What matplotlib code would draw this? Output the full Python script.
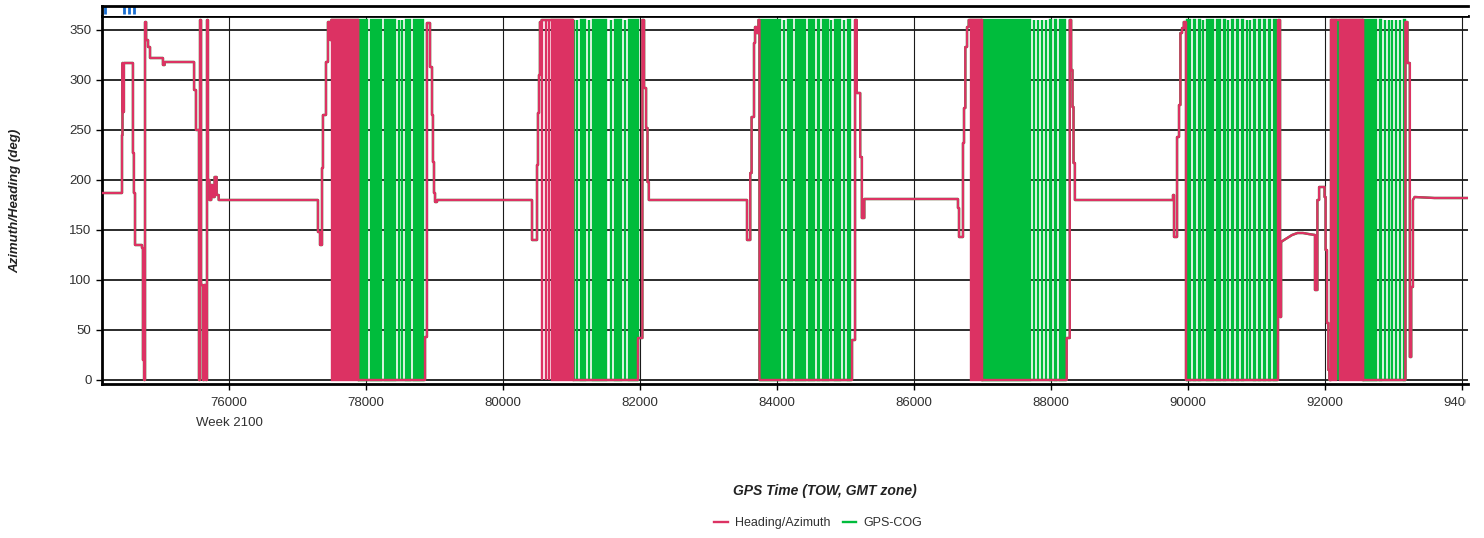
import numpy as np
import matplotlib
matplotlib.use('Agg')
import matplotlib.pyplot as plt
from matplotlib.transforms import Bbox, TransformedBbox

plt.rcParams['font.family'] = ['Liberation Sans', 'DejaVu Sans']

# Heading/Azimuth trace: (GPS TOW [s], deg). Repeated times are vertical jumps.
heading_pts = [
    (74146, 187), (74438, 187), (74438, 245), (74445, 245), (74445, 317), (74452, 317),
    (74452, 268), (74466, 268), (74466, 317), (74598, 317), (74598, 227), (74612, 227),
    (74612, 187), (74628, 187), (74628, 135), (74730, 135), (74730, 132), (74744, 132),
    (74744, 20), (74760, 20), (74760, 0), (74774, 0), (74774, 358), (74790, 358),
    (74790, 340), (74818, 340), (74818, 333), (74847, 333), (74847, 322), (75036, 322),
    (75036, 315), (75060, 315), (75060, 318), (75490, 318), (75490, 290), (75518, 290),
    (75518, 250), (75562, 250), (75562, 0), (75577, 0), (75577, 360), (75592, 360),
    (75592, 95), (75620, 95), (75620, 0), (75640, 0), (75640, 95), (75660, 95),
    (75660, 0), (75679, 0), (75679, 360), (75693, 360), (75693, 200), (75715, 200),
    (75715, 180), (75740, 180), (75740, 195), (75760, 195), (75760, 183), (75790, 183),
    (75790, 203), (75820, 203), (75820, 185), (75850, 185), (75850, 180), (77299, 180),
    # first turn
    (77299, 148), (77329, 148), (77329, 135), (77358, 135), (77358, 212), (77372, 212),
    (77372, 265), (77416, 265), (77416, 318), (77445, 318), (77445, 358), (77475, 358),
    (77475, 340), (77495, 340), (77495, 360), (77885, 360), (77885, 0), (78862, 0),
    (78862, 43), (78890, 43), (78890, 357), (78935, 357), (78935, 313), (78964, 313),
    (78964, 265), (78978, 265), (78978, 218), (78993, 218), (78993, 187), (79008, 187),
    (79008, 178), (79037, 178), (79037, 180), (80424, 180),
    # second turn
    (80424, 140), (80497, 140), (80497, 215), (80511, 215), (80511, 267), (80526, 267),
    (80526, 305), (80540, 305), (80540, 358), (80565, 358), (80565, 360), (81022, 360),
    (81022, 0), (81971, 0), (81971, 42), (82035, 42), (82035, 360), (82060, 360),
    (82060, 292), (82089, 292), (82089, 252), (82110, 252), (82110, 198), (82130, 198),
    (82130, 180), (83563, 180),
    # third turn
    (83563, 140), (83610, 140), (83610, 207), (83630, 207), (83630, 263), (83665, 263),
    (83665, 337), (83680, 337), (83680, 353), (83700, 353), (83700, 347), (83730, 347),
    (83730, 360), (83745, 360), (83745, 0), (85096, 0), (85096, 40), (85140, 40),
    (85140, 360), (85165, 360), (85165, 287), (85215, 287), (85215, 223), (85240, 223),
    (85240, 162), (85275, 162), (85275, 181), (86643, 181),
    # fourth turn
    (86643, 172), (86658, 172), (86658, 143), (86716, 143), (86716, 237), (86731, 237),
    (86731, 272), (86750, 272), (86750, 333), (86775, 333), (86775, 353), (86800, 353),
    (86800, 360), (86992, 360), (86992, 0), (88230, 0), (88230, 42), (88275, 42),
    (88275, 360), (88295, 360), (88295, 310), (88315, 310), (88315, 273), (88330, 273),
    (88330, 217), (88350, 217), (88350, 180), (89782, 180),
    # fifth turn and the last leg
    (89782, 185), (89797, 185), (89797, 143), (89841, 143), (89841, 243), (89870, 243),
    (89870, 275), (89890, 275), (89890, 347), (89914, 347), (89914, 352), (89940, 352),
    (89940, 358), (89972, 358), (89972, 0), (91315, 0), (91315, 360), (91345, 360),
    (91345, 63), (91360, 63), (91360, 138), (91403, 140), (91450, 142), (91520, 145),
    (91600, 147), (91680, 147), (91760, 146), (91855, 145), (91855, 90), (91890, 90),
    (91890, 180), (91915, 180), (91915, 193), (91995, 193), (91995, 183), (92010, 183),
    (92010, 130), (92030, 130), (92030, 57), (92050, 57), (92050, 10), (92065, 10),
    (92065, 0), (92090, 0), (92090, 360), (92556, 360), (92556, 0), (93175, 0),
    (93175, 358), (93205, 358), (93205, 317), (93240, 317), (93240, 23), (93260, 23),
    (93260, 93), (93285, 93), (93285, 180), (93310, 183), (93600, 182), (94146, 182),
]

# spans (start, end) where the value flips 0/360 every sample -> drawn as solid blocks
heading_wrap = [
    (77500, 77885), (80565, 80565), (80624, 80624), (80676, 80676), (80711, 81022),
    (86828, 86992), (92090, 92160), (92215, 92556),
]

cog_wrap = [
    (77905, 78015), (78073, 78220), (78277, 78425), (78475, 78475), (78525, 78527),
    (78585, 78643), (78700, 78832),
    (81030, 81038), (81088, 81088), (81138, 81199), (81256, 81256), (81313, 81505),
    (81570, 81570), (81634, 81724), (81781, 81781), (81839, 81968),
    (83753, 84040), (84100, 84100), (84160, 84220), (84278, 84410), (84468, 84541),
    (84600, 84614), (84672, 84746), (84796, 84796), (84847, 84921), (84979, 84979),
    (85037, 85067),
    (86994, 87695), (87753, 87753), (87811, 87811), (87870, 87870), (87928, 87928),
    (87990, 88000), (88060, 88073), (88132, 88206),
    (89987, 90026), (90084, 90108), (90166, 90172), (90225, 90225), (90279, 90367),
    (90425, 90464), (90522, 90537), (90590, 90590), (90644, 90659), (90717, 90732),
    (90790, 90805), (90858, 90858), (90906, 90906), (90960, 90975), (91033, 91048),
    (91106, 91121), (91179, 91194), (91252, 91290),
    (92190, 92190),
    (92556, 92746), (92810, 92818), (92877, 92877), (92929, 92929), (92980, 92980),
    (93038, 93038), (93096, 93096), (93155, 93170),
]

# event markers in the strip above the plot
event_t = [74190, 74467, 74540, 74613]

xticks = [76000, 78000, 80000, 82000, 84000, 86000, 88000, 90000, 92000, 94000]
yticks = [0, 50, 100, 150, 200, 250, 300, 350]

RED = '#DC3263'
GREEN = '#00BC3C'
BLUE = '#1A6FD1'
TXT = '#303030'
W, H = 1484, 538

fig = plt.figure(figsize=(W / 100, H / 100), dpi=100)
ax = fig.add_axes([102 / W, 1 - 384 / H, (1468 - 102) / W, (384 - 15.5) / H])
strip = fig.add_axes([102 / W, 1 - 15.5 / H, (1468 - 102) / W, 10 / H])

t = np.array([p[0] for p in heading_pts])
v = np.array([p[1] for p in heading_pts])

# COG follows the heading outside the wrap zones (hidden underneath it)
ax.plot(t, v, color=GREEN, lw=1.7, zorder=2, label='GPS-COG')
for s, e in cog_wrap:
    ax.fill([s, e, e, s], [0, 0, 360, 360], color=GREEN, lw=1.7, zorder=2)
ax.plot(t, v, color=RED, lw=1.7, zorder=3, label='Heading/Azimuth')
for s, e in heading_wrap:
    ax.fill([s, e, e, s], [0, 0, 360, 360], color=RED, lw=1.7, zorder=3)

ax.set_xlim(74146, 94089)
ax.set_ylim(-4, 364.5)
ax.set_xticks(xticks)
ax.set_yticks(yticks)
ax.set_xticklabels([str(x) for x in xticks])
ax.set_axisbelow(True)
ax.grid(axis='y', color='#1a1a1a', lw=1.3)
ax.grid(axis='x', color='#1a1a1a', lw=0.8)
ax.tick_params(axis='both', colors='black', labelcolor=TXT, labelsize=9.5,
               length=4.5, width=1)
ax.tick_params(axis='x', pad=5)
ax.tick_params(axis='y', pad=3)
for side in ['left', 'bottom', 'top']:
    ax.spines[side].set_linewidth(2)
ax.spines['right'].set_visible(False)

ax.annotate('Week 2100', xy=(76000, 0), xycoords=('data', 'axes fraction'),
            xytext=(0, -39), textcoords='offset pixels', ha='center', va='center',
            fontsize=9.5, color=TXT)

strip.set_xlim(ax.get_xlim())
strip.set_ylim(0, 1)
strip.vlines(event_t, 0.15, 0.95, color=BLUE, lw=2)
strip.set_xticks([])
strip.set_yticks([])
strip.spines['right'].set_visible(False)
strip.spines['bottom'].set_visible(False)
strip.spines['top'].set_linewidth(2)
strip.spines['left'].set_linewidth(2)

fig.text(15 / W, 1 - 201 / H, 'Azimuth/Heading (deg)', rotation=90, ha='center',
         va='center', fontsize=9.5, fontweight='bold', fontstyle='italic', color='#222222')
fig.text(825 / W, 1 - 491 / H, 'GPS Time (TOW, GMT zone)', ha='center', va='center',
         fontsize=10, fontweight='bold', fontstyle='italic', color='#222222')

handles, labels = ax.get_legend_handles_labels()
fig.legend(handles[::-1], labels[::-1], loc='center', bbox_to_anchor=(818 / W, 1 - 523 / H),
           ncol=2, frameon=False, fontsize=9, handlelength=1.1, handletextpad=0.55,
           columnspacing=1.0, labelcolor=TXT)

# the right end of the chart is cut off in the original
fig.canvas.draw()
last = ax.xaxis.get_major_ticks()[-1].label1
last.set_clip_box(TransformedBbox(Bbox.from_extents(0, 0, 1466 / W, 1), fig.transFigure))
last.set_clip_on(True)

fig.savefig('out.png', dpi=100)
